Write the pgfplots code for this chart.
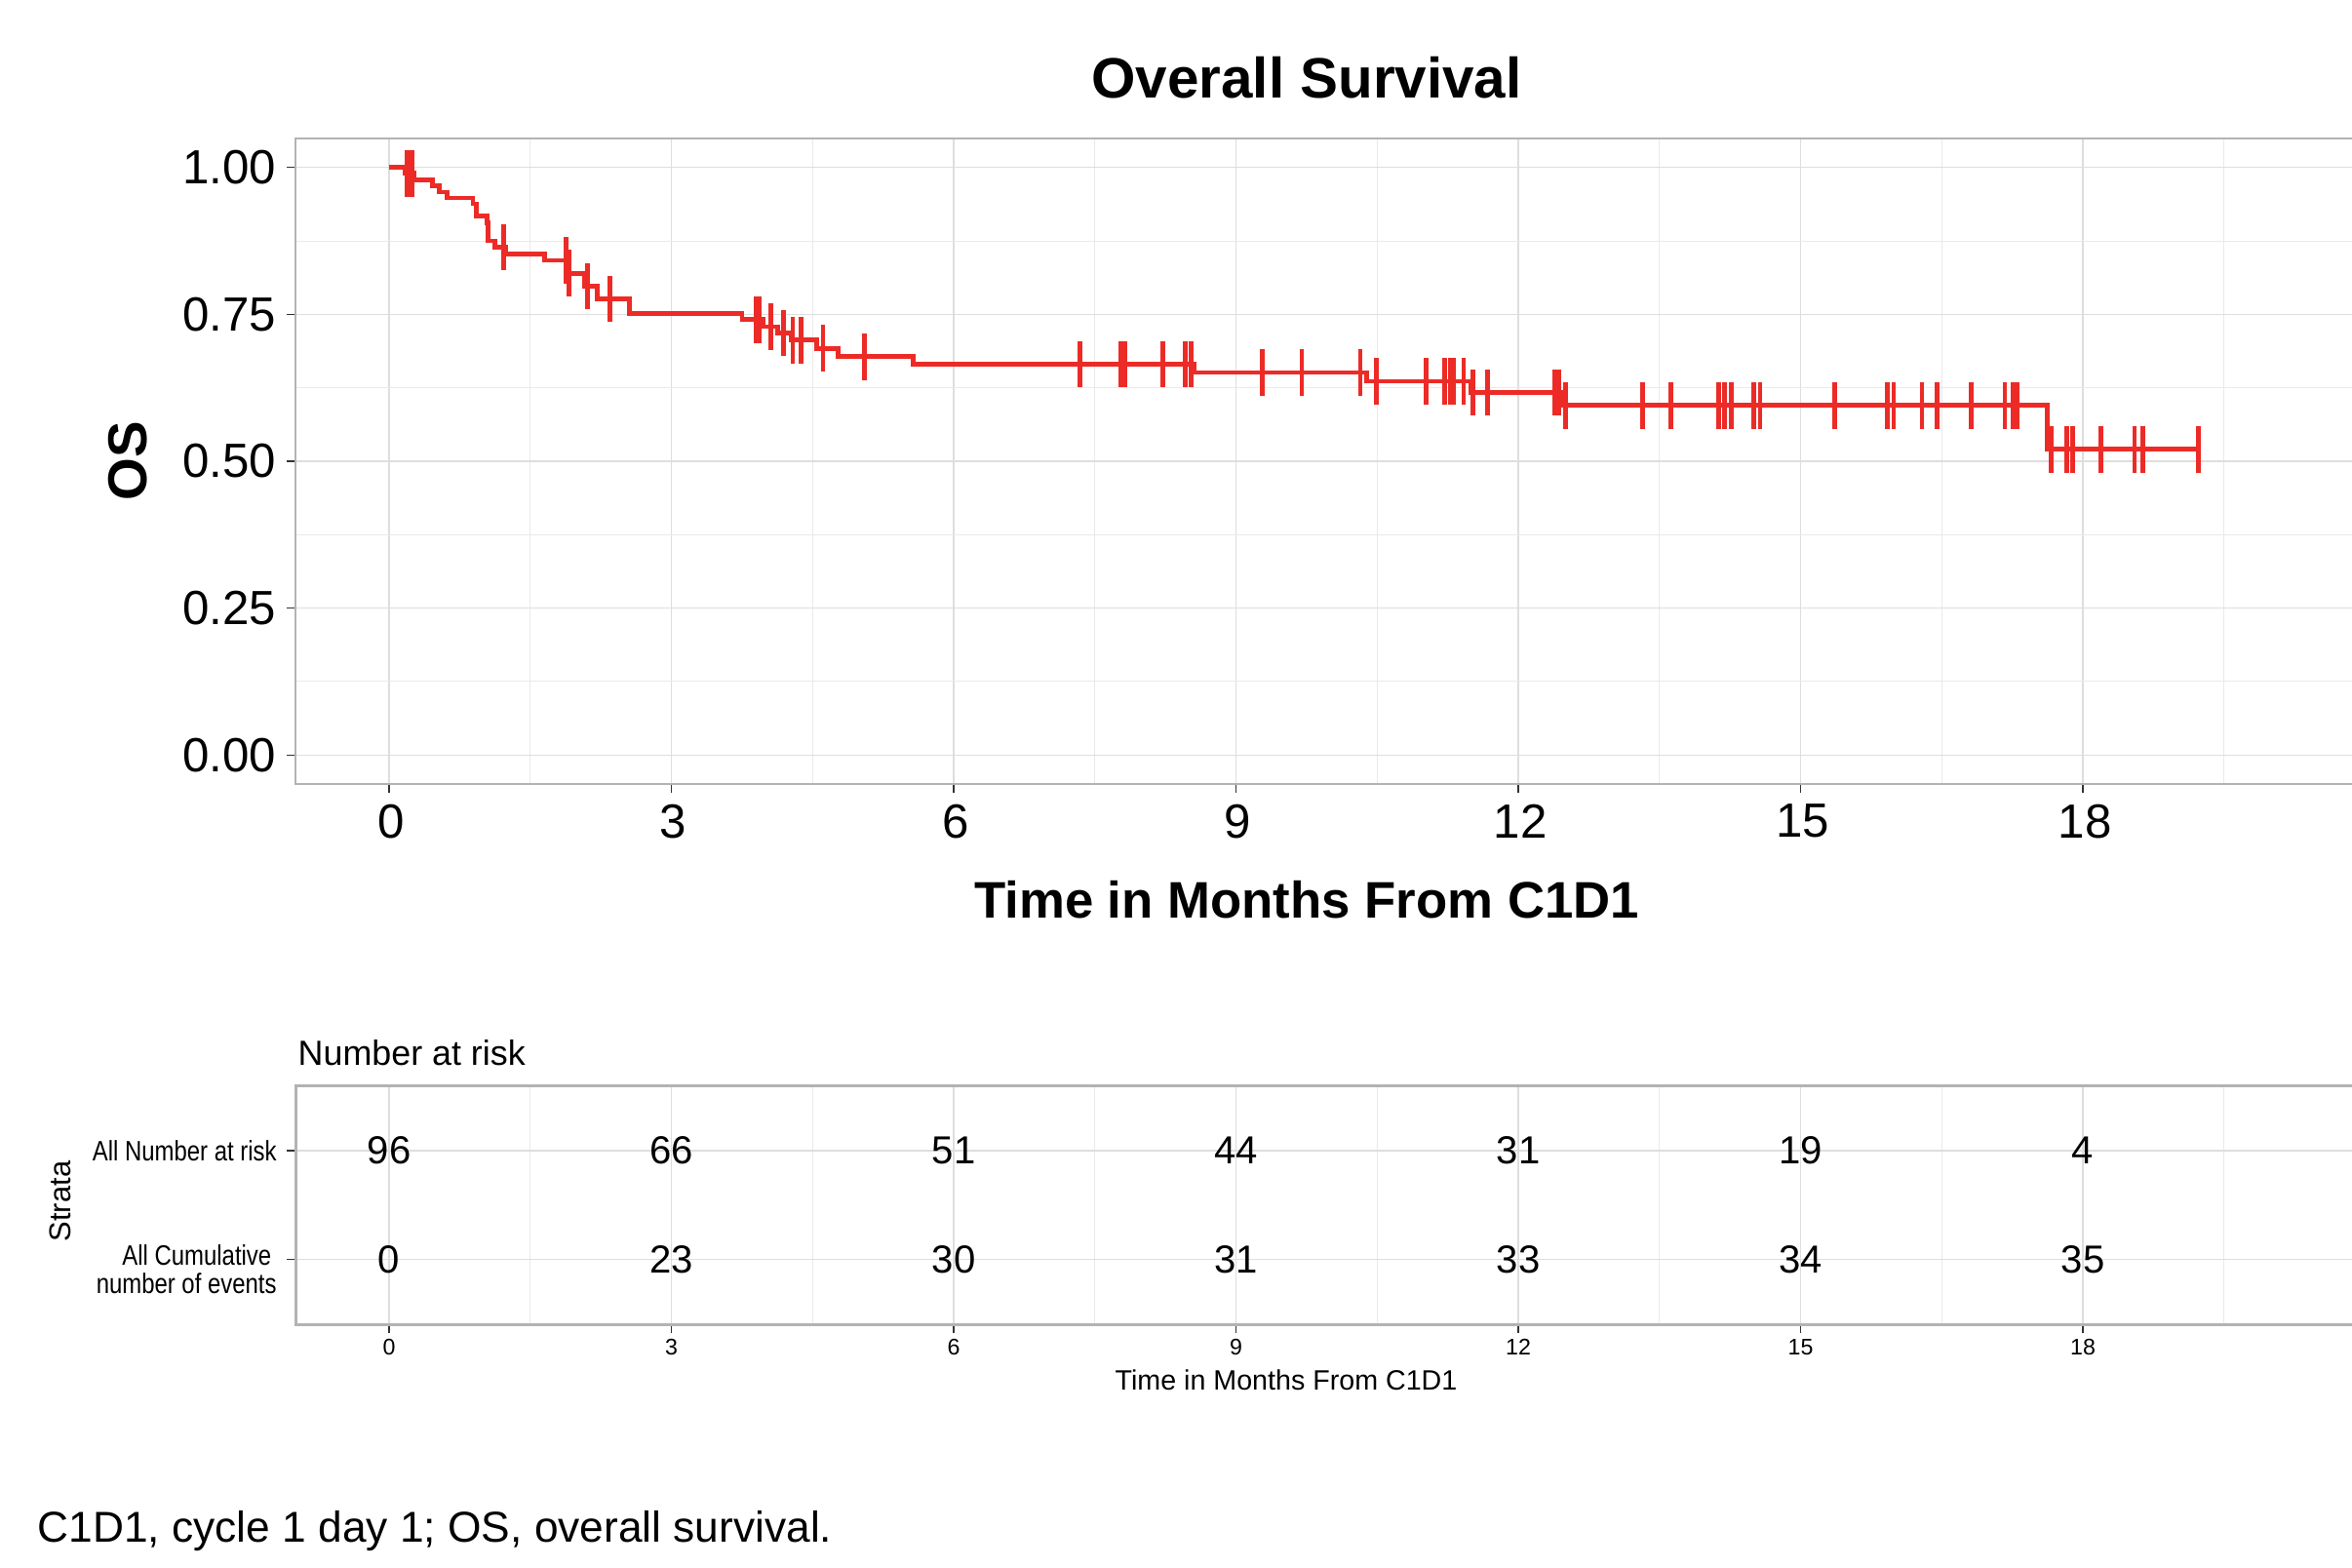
\documentclass[border=0pt]{standalone}
\usepackage{pgfplots}
\pgfplotsset{compat=1.18}
\usepackage{fontspec}
\setmainfont{Liberation Sans}
\newfontfamily\narrowsf[FakeStretch=0.83]{Liberation Sans}
\definecolor{kmred}{RGB}{236,43,39}
\definecolor{gridc}{RGB}{222,222,222}
\definecolor{gridm}{RGB}{234,234,234}
\definecolor{framec}{RGB}{179,179,179}

\pgfplotstableread{
t s
0     1.000
0.17  0.990
0.27  0.979
0.46  0.969
0.53  0.958
0.62  0.948
0.89  0.938
0.93  0.917
1.04  0.906
1.05  0.875
1.12  0.864
1.24  0.852
1.65  0.842
1.90  0.820
2.08  0.798
2.21  0.776
2.55  0.752
3.75  0.741
3.97  0.729
4.13  0.718
4.27  0.706
4.54  0.692
4.77  0.678
5.57  0.665
8.56  0.651
10.39 0.636
11.50 0.617
12.46 0.595
17.62 0.520
19.23 0.520
}\kmdata

\pgfplotstableread{
t s
0.19  0.990
0.24  0.990
1.22  0.864
1.88  0.842
1.91  0.820
2.11  0.798
2.35  0.776
3.90  0.741
3.93  0.741
4.06  0.729
4.19  0.718
4.29  0.706
4.38  0.706
4.61  0.692
5.05  0.678
7.34  0.665
7.77  0.665
7.82  0.665
8.22  0.665
8.46  0.665
8.52  0.665
9.28  0.651
9.70  0.651
10.32 0.651
10.49 0.636
11.02 0.636
11.22 0.636
11.28 0.636
11.31 0.636
11.42 0.636
11.52 0.617
11.67 0.617
12.39 0.617
12.43 0.617
12.50 0.595
13.32 0.595
13.62 0.595
14.13 0.595
14.19 0.595
14.26 0.595
14.50 0.595
14.57 0.595
15.36 0.595
15.92 0.595
15.99 0.595
16.29 0.595
16.45 0.595
16.81 0.595
17.17 0.595
17.26 0.595
17.30 0.595
17.66 0.520
17.83 0.520
17.89 0.520
18.19 0.520
18.55 0.520
18.64 0.520
19.23 0.520
}\censdata

\pgfplotstableread{
x y n
0  2 96
3  2 66
6  2 51
9  2 44
12 2 31
15 2 19
18 2 4
0  1 0
3  1 23
6  1 30
9  1 31
12 1 33
15 1 34
18 1 35
}\risktable

\begin{document}
\begin{tikzpicture}[x=1mm,y=1mm]
\useasboundingbox (0,0) rectangle (241.2,-160.7);
\begin{axis}[
  at={(30.33mm,-80.43mm)}, anchor=south west,
  scale only axis, width=215.87mm, height=66.2mm,
  xmin=-0.992, xmax=21.378, ymin=-0.0501, ymax=1.0488,
  xtick={0,3,6,9,12,15,18}, xticklabels={0,3,6,9,12,15,18},
  minor xtick={1.5,4.5,7.5,10.5,13.5,16.5,19.5},
  ytick={0,0.25,0.5,0.75,1}, yticklabels={0.00,0.25,0.50,0.75,1.00},
  minor ytick={0.125,0.375,0.625,0.875},
  grid=both,
  major grid style={gridc, line width=0.13mm},
  minor grid style={gridm, line width=0.1mm},
  axis line style={framec, line width=0.2mm},
  tick align=outside, tick pos=left,
  major tick length=0.9mm, minor tick length=0pt,
  tick style={black!80, line width=0.12mm},
  ticklabel style={font=\fontsize{14}{16}\selectfont, text=black},
  xticklabel style={inner sep=1.1mm, xshift=0.2mm},
  yticklabel style={inner sep=1.05mm},
]
\addplot[kmred, line width=0.48mm, const plot] table[x=t, y=s] {\kmdata};
\addplot[only marks, mark=|, mark size=2.38mm, kmred, mark options={line width=0.47mm}] table[x=t, y=s] {\censdata};
\end{axis}

\begin{axis}[
  at={(30.33mm,-135.83mm)}, anchor=south west,
  scale only axis, width=215.87mm, height=24.5mm,
  xmin=-0.992, xmax=21.378, ymin=0.404, ymax=2.597,
  xtick={0,3,6,9,12,15,18}, xticklabels={0,3,6,9,12,15,18},
  minor xtick={1.5,4.5,7.5,10.5,13.5,16.5,19.5},
  ytick={1,2}, yticklabels={{\raisebox{-2.1mm}[0pt][0pt]{\begin{tabular}{@{}r@{}}All Cumulative\phantom{i}\\number of events\end{tabular}}}, {All Number at risk}},
  grid=both,
  major grid style={gridc, line width=0.13mm},
  minor grid style={gridm, line width=0.1mm},
  axis line style={framec, line width=0.25mm},
  tick align=outside, tick pos=left,
  major tick length=0.9mm, minor tick length=0pt,
  tick style={black!80, line width=0.12mm},
  xticklabel style={font=\fontsize{6.6}{7.5}\selectfont, inner sep=0.5mm},
  yticklabel style={font=\narrowsf\fontsize{8.2}{7.9}\selectfont, inner sep=1mm},
]
\addplot[draw=none, mark=none, nodes near coords, point meta=explicit symbolic,
  every node near coord/.style={font=\fontsize{11.4}{13}\selectfont, anchor=center, inner sep=0pt}]
  table[x=x, y=y, meta=n] {\risktable};
\end{axis}

\node[font=\bfseries\fontsize{16.6}{19}\selectfont] at (134.0,-8.0) {Overall Survival};
\node[font=\bfseries\fontsize{15}{18}\selectfont] at (134.0,-92.3) {Time in Months From C1D1};
\node[font=\bfseries\fontsize{16}{18}\selectfont, rotate=90] at (13.1,-47.3) {OS};
\node[font=\fontsize{10.2}{12}\selectfont, anchor=west, inner sep=0pt] at (30.5,-108.0) {Number at risk};
\node[font=\fontsize{8.8}{10}\selectfont, rotate=90] at (6.2,-123.2) {Strata};
\node[font=\fontsize{8.15}{9}\selectfont] at (131.9,-141.5) {Time in Months From C1D1};
\node[font=\fontsize{12.6}{14}\selectfont, anchor=base west, inner sep=0pt] at (3.8,-158.1) {C1D1, cycle 1 day 1; OS, overall survival.};
\end{tikzpicture}
\end{document}
